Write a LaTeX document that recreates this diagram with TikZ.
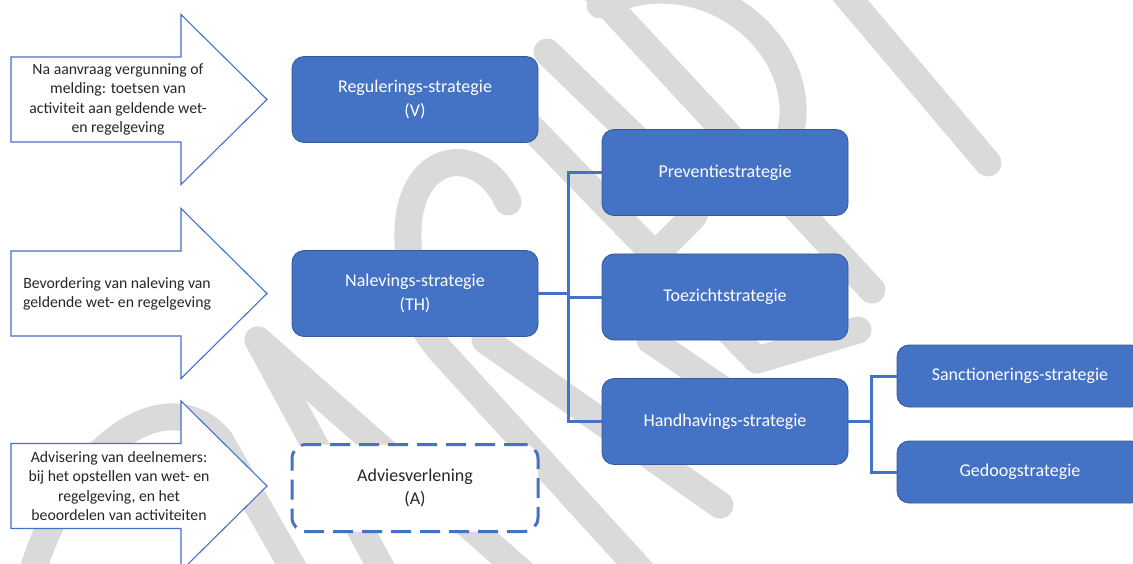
\documentclass[tikz,border=0pt]{standalone}
\usepackage{fontspec}
\setmainfont{Carlito}
\usetikzlibrary{arrows.meta}

\definecolor{smartblue}{RGB}{68,114,196}
\definecolor{smartedge}{RGB}{52,88,152}
\definecolor{wmgray}{RGB}{218,218,218}
\definecolor{txtgray}{RGB}{38,38,38}

\begin{document}
\begin{tikzpicture}[x=1pt,y=-1pt,
		wm/.style={draw=wmgray,line width=27pt,line cap=round,line join=round},
		pijl/.style={draw=smartblue,line width=1.1pt,fill=white},
		pijltekst/.style={align=center,inner sep=0pt,text=txtgray,
			font=\fontsize{15.75}{19.2}\selectfont},
		link/.style={draw=smartblue,line width=3pt}]
	\clip (0,0) rectangle (1133,564);
	\fill[white] (0,0) rectangle (1133,564);

	% watermark
	\draw[wm] (840,-12) -- (988,163);
	\draw[wm] (596,-8) -- (872,290);
	\draw[wm] (600,5) .. controls (700,-45) and (805,40) .. (792,125) .. controls (785,165) and (760,178) .. (735,155);
	\draw[wm] (480,75) -- (757,360) -- (858,330);
	\draw[wm,rounded corners=20pt] (547,52) -- (705,205) -- (625,285);
	\draw[wm] (508,202) .. controls (480,140) and (405,150) .. (408,240) .. controls (410,300) and (415,320) .. (440,350) -- (645,575);
	\draw[wm] (485,340) -- (720,505);
	\draw[wm] (650,340) -- (760,415);
	\draw[wm] (258,340) -- (525,575);
	\draw[wm] (258,340) -- (385,575);
	\draw[wm] (30,580) .. controls (70,440) and (170,380) .. (220,440) -- (300,580);

	% block arrows
	\foreach \yc in {99.5,293.5,486}
		\draw[pijl] (11,\yc-42.5) -- (181,\yc-42.5) -- (181,\yc-85) -- (267,\yc)
			-- (181,\yc+85) -- (181,\yc+42.5) -- (11,\yc+42.5) -- cycle;

	\node[pijltekst] (t1) at (118,99.5) {Na aanvraag vergunning of\\melding: toetsen van\\activiteit aan geldende wet-\\en regelgeving};
	\node[pijltekst] (t2) at (117,293.5) {Bevordering van naleving van\\geldende wet- en regelgeving};
	\node[pijltekst] (t3) at (119,486) {Advisering van deelnemers:\\bij het opstellen van wet- en\\regelgeving, en het\\beoordelen van activiteiten};

	\begin{scope}[every node/.style={rectangle,rounded corners=12pt,fill=smartblue,
				draw=smartedge,line width=0.8pt,text=white,align=center,
				minimum width=246pt,minimum height=86pt,
				font=\fontsize{18}{23.5}\selectfont}]
		% column 1
		\node (reg) at (415,99.5) {Regulerings-strategie\\(V)};
		\node (nal) at (415,293.5) {Nalevings-strategie\\(TH)};
		% column 2
		\node (prev) at (725,172.5) {Preventiestrategie};
		\node (toez) at (725,297) {Toezichtstrategie};
		\node (hand) at (725,421.5) {Handhavings-strategie};
		% column 3
		\node[minimum height=62pt] (sanc) at (1020,376) {Sanctionerings-strategie};
		\node[minimum height=62pt] (gedoog) at (1020,472) {Gedoogstrategie};
	\end{scope}

	\node[rectangle,rounded corners=14pt,fill=white,draw=smartblue,line width=3pt,
		dash pattern=on 20pt off 9pt,minimum width=246pt,minimum height=87pt,
		align=center,text=txtgray,font=\fontsize{18}{23.5}\selectfont]
		(adv) at (415,488) {Adviesverlening\\(A)};

	% connectors
	\coordinate (j1) at (568,293.5);
	\coordinate (j2) at (871,421.5);
	\draw[link] (nal.east) -- (j1);
	\draw[link] (j1) |- (prev.west);
	\draw[link] (j1) |- (toez.west);
	\draw[link] (j1) |- (hand.west);
	\draw[link] (hand.east) -- (j2);
	\draw[link] (j2) |- (sanc.west);
	\draw[link] (j2) |- (gedoog.west);
\end{tikzpicture}
\end{document}
